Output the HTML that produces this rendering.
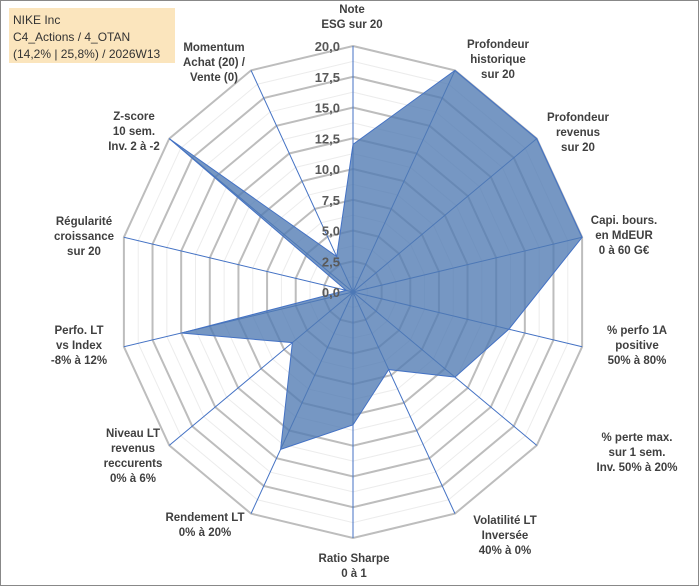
<!DOCTYPE html>
<html><head><meta charset="utf-8"><style>
body{margin:0;background:#fff;}
#c{position:relative;width:700px;height:587px;overflow:hidden;font-family:"Liberation Sans",sans-serif;}
svg{position:absolute;left:0;top:0;}
#title{position:absolute;left:9px;top:8px;width:166px;height:55px;background:#fbe5bd;font-size:12px;color:#333;line-height:17px;padding:4px 0 0 4px;box-sizing:border-box;white-space:nowrap;}
</style></head><body>
<div id="c">
<svg id="s" width="700" height="587"></svg>
<div id="title">NIKE Inc<br>C4_Actions / 4_OTAN<br>(14,2% | 25,8%) / 2026W13</div>
</div>
<script>
const categories=["Note|ESG sur 20","Profondeur|historique|sur 20","Profondeur|revenus|sur 20","Capi. bours.|en MdEUR|0 à 60 G€","% perfo 1A|positive|50% à 80%","% perte max.|sur 1 sem.|Inv. 50% à 20%","Volatilité LT|Inversée|40% à 0%","Ratio Sharpe|0 à 1","Rendement LT|0% à 20%","Niveau LT|revenus|reccurents|0% à 6%","Perfo. LT|vs Index|-8% à 12%","Régularité|croissance|sur 20","Z-score|10 sem.|Inv. 2 à -2","Momentum|Achat (20) /|Vente (0)"];
const values=[12,20,20,20,13.6,11.1,7,10.8,14.2,6.6,15,0.6,20,3.2];
const tickLabels=["0,0","2,5","5,0","7,5","10,0","12,5","15,0","17,5","20,0"];
const labelPos=[[352,13],[498,48],[578,121],[624,224],[637,334],[637,441],[505,524],[354,562],[205,521],[133,437],[79,334],[84,225],[134,120],[214,51]];
const cx=353,cy=292,rx=235,ry=246,maxV=20,N=categories.length;
const s=document.getElementById('s'),NS='http://www.w3.org/2000/svg';
function pt(i,v){const a=i*2*Math.PI/N;return [cx+Math.sin(a)*rx*v/maxV, cy-Math.cos(a)*ry*v/maxV];}
function mk(t,a){const e=document.createElementNS(NS,t);for(const k in a)e.setAttribute(k,a[k]);s.appendChild(e);return e;}
mk('rect',{x:0.5,y:0.5,width:698,height:585,fill:'none',stroke:'#888','stroke-width':1});
for(let k=1;k<=16;k++){const v=k*1.25;const pts=[];for(let i=0;i<N;i++)pts.push(pt(i,v).join(','));
const g=mk('polygon',{points:pts.join(' '),fill:'none',stroke:k%2==0?'#bdbdbd':'#ececec','stroke-width':k%2==0?2:1});

}
for(let i=0;i<N;i++){const p=pt(i,maxV);const l=mk('line',{x1:cx,y1:cy,x2:p[0],y2:p[1],stroke:'#4472c4','stroke-width':1});

}
const poly=mk('polygon',{points:values.map((v,i)=>pt(i,v).join(',')).join(' '),fill:'rgba(79,122,178,0.78)',stroke:'#4472c4','stroke-width':1});


tickLabels.forEach((t,k)=>{const v=k*2.5;const y=cy-ry*v/maxV;const e=mk('text',{x:340,y:y+5,'text-anchor':'end','font-size':'13','font-weight':'bold',fill:'#595959'});e.textContent=t;

});
categories.forEach((c,i)=>{const lines=c.split('|');const [x,y]=labelPos[i];const t=mk('text',{x:x,y:y,'text-anchor':'middle','font-size':'11.5','font-weight':'bold',fill:'#404040'});


lines.forEach((ln,j)=>{const ts=document.createElementNS(NS,'tspan');ts.setAttribute('x',x);ts.setAttribute('dy',j?15:0);ts.textContent=ln;t.appendChild(ts);});});
</script>
</body></html>
